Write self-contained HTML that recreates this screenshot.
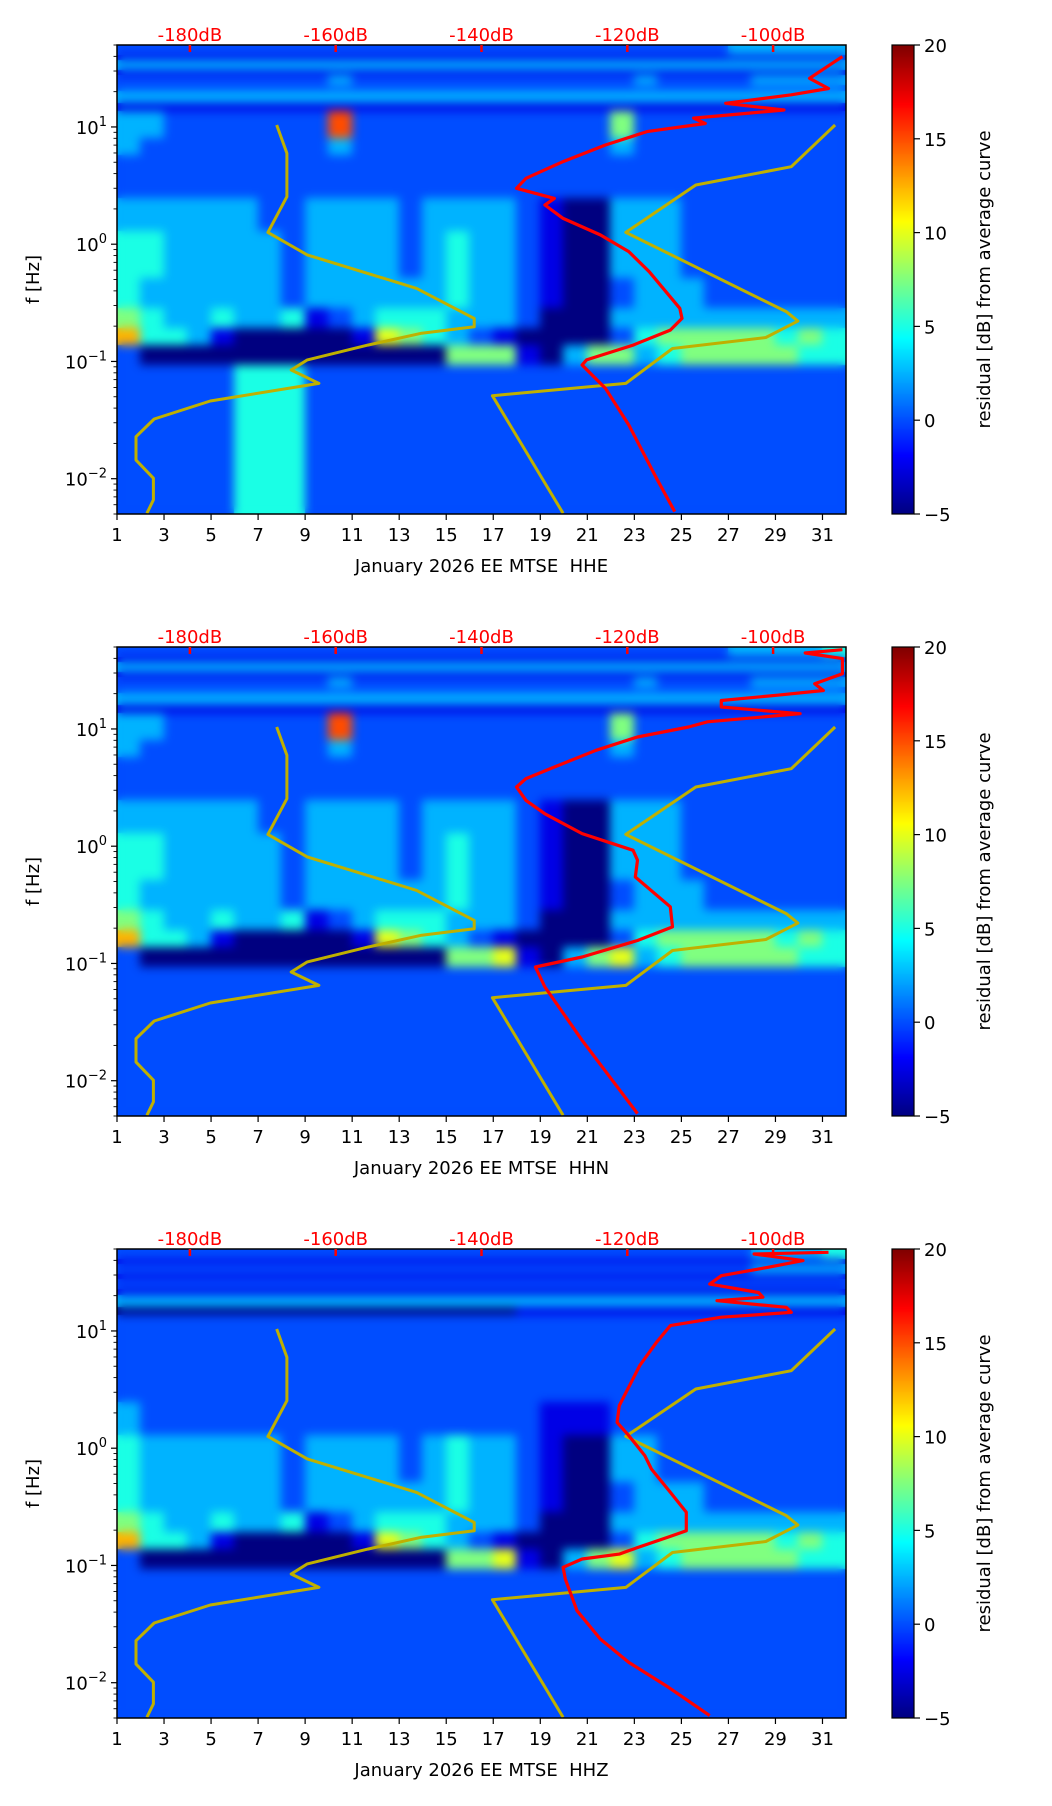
<!DOCTYPE html>
<html><head><meta charset="utf-8">
<style>
html,body{margin:0;padding:0;background:#fff;}
#root{position:relative;width:1052px;height:1806px;overflow:hidden;background:#fff;font-family:"DejaVu Sans","Liberation Sans",sans-serif;}
canvas{position:absolute;}
svg{position:absolute;left:0;top:0;}
</style></head>
<body>
<div id="root">
<canvas id="hm0"></canvas>
<canvas id="hm1"></canvas>
<canvas id="hm2"></canvas>
<canvas id="cb0"></canvas>
<canvas id="cb1"></canvas>
<canvas id="cb2"></canvas>
<svg id="ov" width="1052" height="1806"></svg>
</div>
<script>
// ---- data ----
const panelTitles = ["January 2026 EE MTSE  HHE","January 2026 EE MTSE  HHN","January 2026 EE MTSE  HHZ"];
const dayTicks = [1,3,5,7,9,11,13,15,17,19,21,23,25,27,29,31];
const dbTicks = [-180,-160,-140,-120,-100];
const cbTicks = [20,15,10,5,0,-5];
const yMajor = [0.01,0.1,1,10];
const yMajorLabels = ["-2","-1","0","1"];
// band edges (Hz), top to bottom
const bandEdges = [50,41,37.2,30.5,27.7,22.7,19.9,15.8,13.5,8,5.7,2.46,1.28,0.51,0.284,0.19,0.138,0.093,0.005];
// residual digit d -> value -5 + 2.5*d, one char per day (1..31), grouped by 5 days
const rowsHHE = [
"22222 22222 22222 22222 22222 23333 3",
"11111 11111 11111 11111 11111 11111 1",
"33333 33333 33333 33333 33333 33333 3",
"11111 11111 11111 11111 11111 11111 1",
"22222 22223 22222 22222 22322 22333 3",
"22222 22222 22222 22222 22222 22222 2",
"33333 33333 33333 33333 33333 33333 3",
"11111 11111 11111 11111 11111 11111 1",
"33222 22228 22222 22222 25222 22222 2",
"32222 22223 22222 22222 23222 22222 2",
"22222 22222 22222 22222 22222 22222 2",
"33333 32233 33233 33210 03332 22222 2",
"44333 33233 33234 33210 03332 22222 2",
"43333 33233 33334 33210 02333 22222 2",
"54334 33412 34443 33200 03333 33333 3",
"74431 00000 16543 21000 02455 55545 4",
"20000 00000 00005 55103 55345 55554 4",
"22222 44422 22222 22222 22222 22222 2"];
const rowsHHN = [
"22222 22222 22222 22222 22222 23333 4",
"11111 11111 11111 11111 11111 11111 1",
"33333 33333 33333 33333 33333 33333 3",
"11111 11111 11111 11111 11111 11111 1",
"22222 22223 22222 22222 22322 22333 3",
"22222 22222 22222 22222 22222 22222 2",
"33333 33333 33333 33333 33333 33333 3",
"11111 11111 11111 11111 11111 11111 1",
"33222 22228 22222 22222 25222 22222 2",
"32222 22223 22222 22222 23222 22222 2",
"22222 22222 22222 22222 22222 22222 2",
"33333 32233 33233 33210 03332 22222 2",
"44333 33233 33234 33210 03332 22222 2",
"43333 33233 33334 33210 02333 22222 2",
"54334 33412 34443 33200 03333 33333 3",
"74431 00000 16543 21000 02455 55545 4",
"20000 00000 00005 56103 56345 55554 4",
"22222 22222 22222 22222 22222 22222 2"];
const rowsHHZ = [
"22222 22222 22222 22222 22222 22333 4",
"11111 11111 11111 11111 11111 11111 1",
"22222 22222 22222 22222 22222 22333 3",
"11111 11111 11111 11111 11111 11111 1",
"22222 22222 22222 22222 22222 22222 2",
"11111 11111 11111 11111 11111 11111 1",
"33333 33333 33333 33333 33333 33333 3",
"00000 00000 00000 00111 11111 11111 1",
"22222 22222 22222 22222 22222 22222 2",
"22222 22222 22222 22222 22222 22222 2",
"22222 22222 22222 22222 22222 22222 2",
"32222 22222 22222 22211 12222 22222 2",
"43333 33233 33234 33210 03322 22222 2",
"43333 33233 33334 33210 02333 22222 2",
"54334 33412 34443 33200 03333 33333 3",
"74431 00000 16543 21000 02455 55545 4",
"20000 00000 00005 56103 56345 55554 4",
"22222 22222 22222 22222 22222 22222 2"];
// model curves (Hz, dB) - low noise model
const nlnmF  = [10.4,5.96,2.54,1.26,0.81,0.42,0.233,0.198,0.174,0.138,0.103,0.0845,0.065,0.046,0.0323,0.0228,0.0144,0.0101,0.0066,0.00507];
const nlnmDB = [-168.1,-166.7,-166.7,-169.3,-163.9,-148.9,-141.0,-141.0,-148.2,-155.6,-163.9,-166.1,-162.3,-177.2,-184.9,-187.4,-187.4,-185.0,-185.0,-185.9];
// high noise model
const nhnmF  = [10.4,4.58,3.2,1.26,0.266,0.221,0.16,0.129,0.065,0.051,0.00507];
const nhnmDB = [-91.5,-97.5,-110.6,-120.2,-98.2,-96.6,-101.0,-113.8,-120.2,-138.5,-128.8];
// average PSD curves
const avgF0  = [39.8,26.0,21.3,18.8,15.9,13.95,11.9,10.7,9.12,7.02,5.06,3.65,3.0,2.46,2.16,1.66,1.20,0.864,0.583,0.284,0.233,0.185,0.138,0.103,0.0933,0.059,0.0287,0.0101,0.00524];
const avgDB0 = [-90.5,-95.0,-92.4,-97.5,-106.5,-98.5,-110.9,-109.3,-117.3,-123.0,-128.8,-133.9,-135.2,-130.0,-131.3,-128.8,-123.7,-119.8,-117.0,-112.8,-112.5,-114.1,-119.2,-125.6,-126.2,-123.0,-119.8,-116.0,-113.5];
const avgF1  = [47.4,44.4,39.8,29.6,24.3,21.3,19.4,17.5,15.4,13.5,11.5,10.4,8.54,6.57,4.74,3.77,3.2,2.46,1.89,1.28,0.923,0.759,0.546,0.304,0.205,0.157,0.1135,0.0933,0.063,0.0221,0.00524];
const avgDB1 = [-90.5,-95.6,-90.5,-90.5,-94.3,-93.1,-99.4,-107.1,-107.1,-96.3,-109.0,-111.6,-118.6,-124.3,-130.0,-133.9,-135.2,-133.9,-131.3,-126.2,-119.2,-118.6,-118.9,-114.1,-113.8,-118.6,-126.2,-132.6,-131.3,-126.2,-118.6];
const avgF2  = [46.9,45.3,39.8,34.9,29.6,25.1,21.3,19.4,18.1,15.9,14.4,13.1,11.1,8.0,5.06,2.31,1.66,1.28,0.864,0.665,0.421,0.284,0.198,0.177,0.134,0.125,0.1135,0.0964,0.0766,0.0411,0.0236,0.0149,0.00944,0.00524];
const avgDB2 = [-92.4,-102.6,-95.9,-100.7,-107.1,-108.7,-102.0,-101.4,-107.7,-98.2,-97.5,-107.1,-114.1,-116.0,-118.3,-121.1,-121.4,-119.8,-117.6,-116.7,-114.1,-111.9,-111.9,-114.1,-119.8,-121.1,-126.2,-128.8,-128.5,-126.9,-123.7,-119.8,-114.7,-108.7];

// ---- layout ----
const L=117, W=729, H=469, tops=[45,647,1249];
const dayMin=1, dayMax=32, fMin=0.005, fMax=50, dbMin=-190, dbMax=-90;
const CBX=892, CBW=22;
const rowsAll=[rowsHHE,rowsHHN,rowsHHZ].map(rs=>rs.map(s=>s.replace(/ /g,'')));
const avgFs=[avgF0,avgF1,avgF2], avgDBs=[avgDB0,avgDB1,avgDB2];
const xDay=d=>L+(d-dayMin)/(dayMax-dayMin)*W;
const xDB=v=>L+(v-dbMin)/(dbMax-dbMin)*W;
const yF=(f,top)=>top+(Math.log10(fMax)-Math.log10(f))/(Math.log10(fMax)-Math.log10(fMin))*H;
function jet(t){t=Math.max(0,Math.min(1,t));const c=x=>Math.round(255*Math.max(0,Math.min(1,x)));
 return [c(1.5-Math.abs(4*t-3)),c(1.5-Math.abs(4*t-2)),c(1.5-Math.abs(4*t-1))];}
const NS="http://www.w3.org/2000/svg";
const ov=document.getElementById('ov');
function el(tag,attrs,txt){const e=document.createElementNS(NS,tag);for(const k in attrs)e.setAttribute(k,attrs[k]);if(txt!==undefined)e.textContent=txt;ov.appendChild(e);return e;}

for(let p=0;p<3;p++){
 const top=tops[p];
 const cv=document.getElementById('hm'+p);
 cv.width=W;cv.height=H;cv.style.left=L+'px';cv.style.top=top+'px';
 const off=document.createElement('canvas');off.width=W;off.height=H;
 const oc=off.getContext('2d');
 const rows=rowsAll[p];
 for(let r=0;r<rows.length;r++){
  const y0=yF(bandEdges[r],top)-top, y1=yF(bandEdges[r+1],top)-top;
  for(let c=0;c<31;c++){
   const d=+rows[r][c];const v=-5+2.5*d;
   const [R,G,B]=jet((v+5)/25);
   oc.fillStyle=`rgb(${R},${G},${B})`;
   const x0=xDay(c+1)-L, x1=xDay(c+2)-L;
   oc.fillRect(Math.floor(x0),Math.floor(y0),Math.ceil(x1-x0)+1,Math.ceil(y1-y0)+1);
  }
 }
 const ctx=cv.getContext('2d');
 ctx.drawImage(off,0,0);
 ctx.filter='blur(5px)';
 ctx.drawImage(off,0,0);
 ctx.filter='none';
 const cb=document.getElementById('cb'+p);
 cb.width=CBW;cb.height=H;cb.style.left=CBX+'px';cb.style.top=top+'px';
 const cc=cb.getContext('2d');
 for(let i=0;i<H;i++){const [R,G,B]=jet(1-i/H);cc.fillStyle=`rgb(${R},${G},${B})`;cc.fillRect(0,i,CBW,1);}
 const curve=(fs,dbs,color,name,w)=>{let d='';for(let i=0;i<fs.length;i++){d+=(i?'L':'M')+xDB(dbs[i]).toFixed(1)+' '+yF(fs[i],top).toFixed(1);}
  const pth=el('path',{d:d,fill:'none',stroke:color,'stroke-width':w,'stroke-linejoin':'round'});
  
  };
 const cp=el('clipPath',{id:'clip'+p});
 const cr=document.createElementNS(NS,'rect');cp.appendChild(cr);
 cr.setAttribute('x',L);cr.setAttribute('y',top);cr.setAttribute('width',W);cr.setAttribute('height',H);
 const gc=el('g',{'clip-path':`url(#clip${p})`,});
 const before=ov.childNodes.length;
 curve(nlnmF,nlnmDB,'#bfb000','low-noise-model-line',3);
 curve(nhnmF,nhnmDB,'#bfb000','high-noise-model-line',3);
 curve(avgFs[p],avgDBs[p],'#ff0000','average-psd-line',3.2);
 while(ov.childNodes.length>before){gc.appendChild(ov.childNodes[before]);}
 el('rect',{x:L,y:top,width:W,height:H,fill:'none',stroke:'#000','stroke-width':1.5,});
 el('rect',{x:CBX,y:top,width:CBW,height:H,fill:'none',stroke:'#000','stroke-width':1.2,});
 for(const d of dayTicks){const x=xDay(d);
  el('line',{x1:x,x2:x,y1:top+H,y2:top+H+6,stroke:'#000','stroke-width':1.2});
  const t=el('text',{x:x,y:top+H+27,'font-size':18,'text-anchor':'middle',fill:'#000'},String(d));
  
  }
 el('text',{x:L+W/2,y:top+H+58,'font-size':18,'text-anchor':'middle',fill:'#000',},panelTitles[p]).setAttribute('style','white-space:pre');
 for(let e=-3;e<=1;e++){for(let m=1;m<=9;m++){const f=m*Math.pow(10,e);if(f<fMin||f>fMax)continue;const y=yF(f,top);
  el('line',{x1:L-(m===1?6:3.5),x2:L,y1:y,y2:y,stroke:'#000','stroke-width':m===1?1.2:0.9});}}
 yMajor.forEach((f,i)=>{const y=yF(f,top);
  const t=el('text',{x:L-10,y:y+7,'font-size':18,'text-anchor':'end',fill:'#000'});
  
  
  const a=document.createElementNS(NS,'tspan');a.textContent='10';t.appendChild(a);
  const b=document.createElementNS(NS,'tspan');b.setAttribute('dy','-8');b.setAttribute('font-size','13');b.textContent=yMajorLabels[i].replace('-','\u2212');t.appendChild(b);});
 el('text',{x:0,y:0,'font-size':18,'text-anchor':'middle',fill:'#000',transform:`translate(39,${top+H/2}) rotate(-90)`,},'f [Hz]');
 for(const v of dbTicks){const x=xDB(v);
  el('line',{x1:x,x2:x,y1:top,y2:top+7,stroke:'#ff0000','stroke-width':2.5});
  const t=el('text',{x:x,y:top-4,'font-size':18,'text-anchor':'middle',fill:'#ff0000'},v+'dB');
  
  }
 for(const v of cbTicks){const y=top+(20-v)/25*H;
  el('line',{x1:CBX+CBW,x2:CBX+CBW+6,y1:y,y2:y,stroke:'#000','stroke-width':1.2});
  const t=el('text',{x:CBX+CBW+10,y:y+7,'font-size':18,fill:'#000'},String(v).replace('-','\u2212'));
  
  }
 el('text',{x:0,y:0,'font-size':18,'text-anchor':'middle',fill:'#000',transform:`translate(990,${top+H/2}) rotate(-90)`,},'residual [dB] from average curve');
}
</script>
</body></html>
